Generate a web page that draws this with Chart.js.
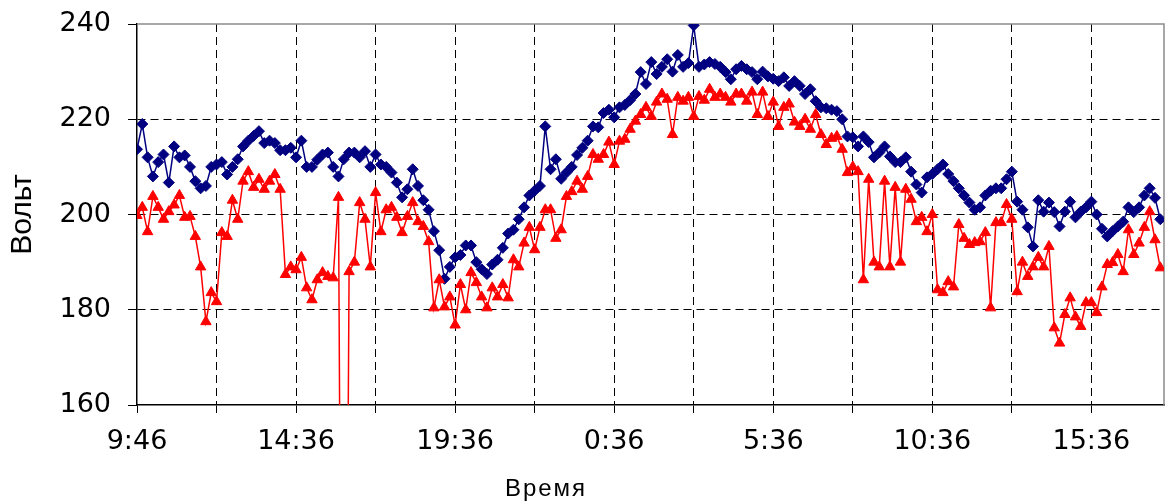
<!DOCTYPE html>
<html>
<head>
<meta charset="utf-8">
<script src="https://cdn.jsdelivr.net/npm/chart.js@4"></script>
<style>
  html, body { margin: 0; padding: 0; background: #fff; }
  #wrap { width: 1171px; height: 504px; }
</style>
</head>
<body>
<div id="wrap"><canvas id="voltChart"></canvas></div>
<script>
// labels under the x axis, one every 30 readings
const tickLabels = ['9:46', '14:36', '19:36', '0:36', '5:36', '10:36', '15:36']
const perLabel = 30

// phase 1 (blue diamonds)
const blueVolts = [
  213.7, 219, 212, 208, 211, 212.6, 206.7, 214.3, 212, 212.4,
  210, 207, 205.5, 206, 210, 210.5, 211, 208.4, 210, 211.6,
  214.3, 215.5, 216.5, 217.5, 215, 215.5, 215, 213.5, 213.5, 214,
  212, 215.5, 210, 210, 211.5, 212.6, 213, 210, 208, 211.6,
  213, 213, 212, 213.3, 210, 212.6, 210.5, 210, 208.8, 206.7,
  203.6, 205.3, 209.5, 206, 203, 201, 196.5, 192.5, 186.5, 189,
  191, 191.5, 193.5, 193.5, 190, 188.5, 187.5, 189.5, 190.5, 193,
  196, 196.8, 199, 201.5, 204, 205, 206, 218.5, 209.5, 211.6,
  207.5, 208.8, 210, 212.5, 214, 215.5, 218.5, 218.3, 221.3, 222,
  220.4, 222.5, 223, 224, 225.3, 229.9, 227.4, 232, 229.5, 231,
  232.6, 230, 233.5, 231, 231.8, 239.7, 231, 231.5, 232, 231.6,
  231, 229.9, 228.4, 230.5, 231.2, 230.5, 229.9, 228.4, 230, 229,
  228.5, 228, 228.8, 227, 228, 227, 225.3, 226.3, 223.8, 222.5,
  222.3, 222, 221.7, 220, 216.4, 216.2, 214.3, 216.4, 215.2, 212,
  213, 214.3, 212.2, 211, 211, 212, 209, 206.3, 204.6, 207.8,
  208.5, 209.5, 210.5, 208.5, 207, 205.5, 204, 202.5, 201, 201.5,
  204, 205, 205.5, 205.5, 207.4, 209, 202.7, 201, 197.3, 193.3,
  203, 200.6, 202.5, 200.5, 197.5, 200.6, 202.7, 199.4, 200.6, 201.5,
  202.7, 200, 197, 195.4, 196.5, 197.5, 198.5, 201.5, 200.5, 201.5,
  204, 205.5, 203.5, 199
]

// phase 2 (red triangles), 0 = dropout reading
const redVolts = [
  199.8, 201.5, 196.4, 203.8, 201.5, 199, 200.6, 202, 204, 199.4,
  199.6, 195.4, 189, 177.5, 183.6, 181.7, 196.2, 195.4, 203, 199,
  207, 209, 205.7, 207.4, 205.3, 207, 208.4, 205.3, 187.4, 189,
  188.4, 191, 184.6, 182.1, 186.3, 187.8, 187, 186.7, 203.6, 0,
  188, 190, 202.5, 199, 189, 204.6, 196.4, 201, 201.5, 199.4,
  196.2, 199.6, 202.5, 198.5, 197.5, 194.3, 180.4, 186.3, 180.6, 182.7,
  176.8, 185.3, 180, 187.8, 185.7, 182.7, 180.4, 184.6, 182.7, 185.3,
  182.5, 190.5, 189, 194, 197.3, 192.6, 197.3, 201, 201, 195,
  196.8, 203.8, 204.8, 207, 205.3, 208, 212.6, 211.6, 212.6, 215.2,
  210.5, 215.4, 215.8, 217.9, 219.6, 221, 222.5, 220.6, 223.6, 225.3,
  224.2, 216.8, 224.6, 223.8, 224.6, 220.6, 224.8, 224, 226.3, 224.6,
  225.3, 224.6, 223.6, 225.3, 225.3, 223.8, 225.7, 221, 225.7, 220.6,
  223.6, 218.5, 222.5, 223.2, 219.4, 218.5, 220, 217.9, 221, 216.8,
  214.7, 216, 216.4, 213.7, 208.8, 210, 209, 186.3, 207.4, 190,
  189, 207, 189, 205.7, 190, 205.3, 203.2, 198.5, 199.4, 196.4,
  200, 184.2, 183.6, 185.9, 184.8, 197.9, 195, 193.7, 194.1, 194.3,
  196.2, 180.4, 198.3, 198.3, 202.1, 199, 183.8, 190, 187, 189,
  191, 189, 193.3, 176.2, 173, 179, 182.5, 178.5, 176.5, 181.5,
  181.5, 179.4, 184.8, 189.5, 189.9, 191.6, 188, 196.8, 191.6, 194,
  197.3, 200.6, 194.7, 188.8
]

const yTicks = [160, 180, 200, 220, 240]

const fontFamily = '"Liberation Sans", Arial, sans-serif'
const tickFamily = '"DejaVu Sans", "Liberation Sans", sans-serif'
const clear = 'rgba(0,0,0,0)'

// gray top/right frame plus the axis titles
const framePlugin = {
  id: 'frame',
  beforeDatasetsDraw(chart) {
    const { ctx, chartArea: a } = chart
    ctx.save()
    ctx.strokeStyle = '#8c8c8c'
    ctx.lineWidth = 1.5
    ctx.beginPath()
    ctx.moveTo(a.left, a.top)
    ctx.lineTo(a.right, a.top)
    ctx.lineTo(a.right, a.bottom)
    ctx.stroke()
    ctx.restore()
  },
  afterDraw(chart) {
    const { ctx, chartArea: a } = chart
    ctx.save()
    ctx.fillStyle = '#000'
    ctx.textAlign = 'center'
    ctx.textBaseline = 'middle'
    ctx.font = '24px ' + fontFamily
    ctx.letterSpacing = '2px'
    ctx.fillText('Время', 546, 489)
    ctx.letterSpacing = '0px'
    ctx.font = '30px ' + fontFamily
    ctx.translate(23, (a.top + a.bottom) / 2)
    ctx.rotate(-Math.PI / 2)
    ctx.fillText('Вольт', 0, 0)
    ctx.restore()
  }
}

const voltChart = new Chart(document.getElementById('voltChart'), {
  type: 'line',
  data: {
    datasets: [{
      label: 'blue',
      data: blueVolts.map((v, i) => ({ x: i, y: v })),
      borderColor: '#000080',
      backgroundColor: '#000080',
      borderWidth: 1.5,
      pointStyle: 'rectRot',
      pointRadius: 5.5,
      pointBorderWidth: 1,
      tension: 0,
      order: 2
    }, {
      label: 'red',
      data: redVolts.map((v, i) => ({ x: i, y: v })),
      borderColor: '#ff0000',
      backgroundColor: '#ff0000',
      borderWidth: 1.5,
      pointStyle: 'triangle',
      pointRadius: 6,
      pointBorderWidth: 1,
      tension: 0,
      order: 1
    }]
  },
  options: {
    responsive: true,
    maintainAspectRatio: false,
    animation: false,
    layout: { padding: { top: 24, right: 1, left: 0, bottom: 0 } },
    plugins: {
      legend: { display: false },
      tooltip: { enabled: false }
    },
    scales: {
      x: {
        type: 'linear',
        min: 0,
        max: (blueVolts.length - 1) + 0.7,
        afterFit(scale) {
          scale.height = 99
          scale.paddingLeft = 0
          scale.paddingRight = 0
        },
        ticks: {
          stepSize: perLabel / 2,
          includeBounds: false,
          autoSkip: false,
          maxRotation: 0,
          padding: 13,
          color: '#000',
          font: { family: tickFamily, size: 27 },
          callback: (value) => value % perLabel === 0 ? tickLabels[value / perLabel] : ''
        },
        grid: {
          color: (c) => c.tick && c.tick.value === 0 ? clear : '#000',
          lineWidth: 1,
          tickColor: '#000',
          tickLength: 8
        },
        border: { display: true, color: '#000', width: 1.5, dash: [8, 5] }
      },
      y: {
        min: yTicks[0],
        max: yTicks[yTicks.length - 1],
        afterFit(scale) {
          scale.width = 137
          scale.paddingTop = 0
          scale.paddingBottom = 0
        },
        afterBuildTicks(scale) { scale.ticks = yTicks.map(v => ({ value: v })) },
        ticks: {
          padding: 17,
          color: '#000',
          font: { family: tickFamily, size: 27 }
        },
        grid: {
          color: (c) => c.tick && (c.tick.value === yTicks[0] || c.tick.value === yTicks[yTicks.length - 1]) ? clear : '#000',
          lineWidth: 1,
          tickColor: '#000',
          tickLength: 9
        },
        border: { display: true, color: '#000', width: 1.5, dash: [8, 5] }
      }
    }
  },
  plugins: [framePlugin]
})
</script>
</body>
</html>
